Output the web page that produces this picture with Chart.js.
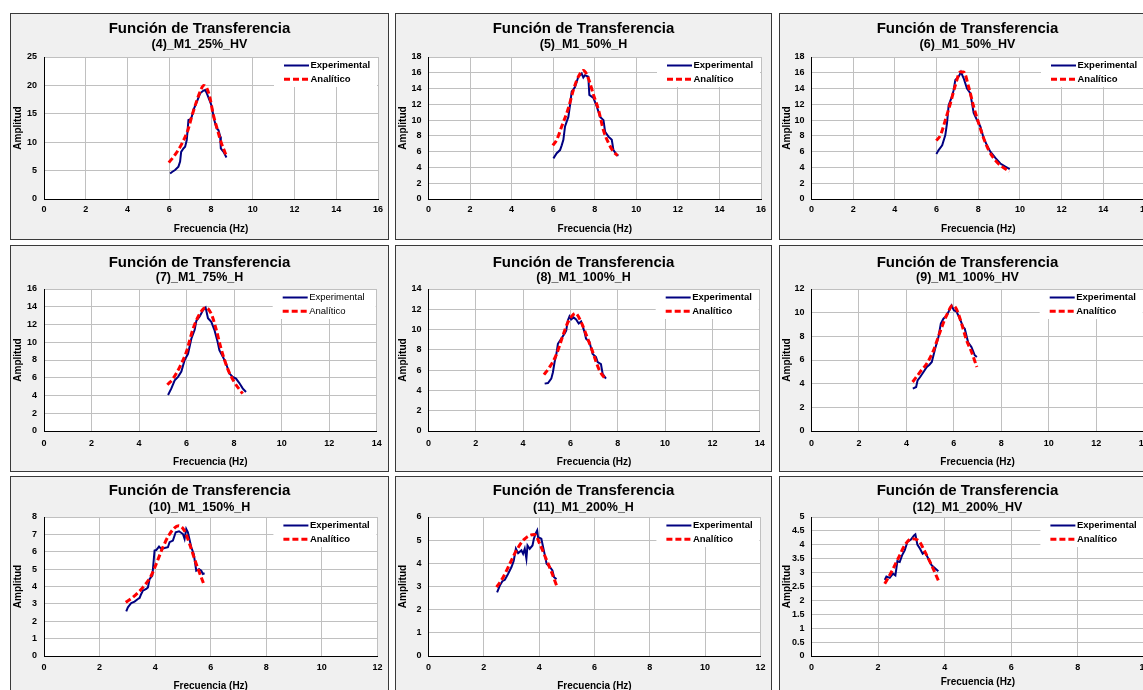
<!DOCTYPE html>
<html><head><meta charset="utf-8">
<script src="https://cdn.jsdelivr.net/npm/chart.js@4.4.0/dist/chart.umd.min.js"></script>
<style>
html,body{margin:0;padding:0;background:#fff;overflow:hidden;width:1143px;height:690px;position:relative;}
canvas{position:absolute;}
</style></head><body>
<script>
// ---------------- DATA ----------------
const mainTitle = 'Función de Transferencia';
const xAxisTitle = 'Frecuencia (Hz)';
const yAxisTitle = 'Amplitud';
const seriesNames = ['Experimental', 'Analítico'];
const panelNames = ['(4)_M1_25%_HV', '(5)_M1_50%_H', '(6)_M1_50%_HV',
                    '(7)_M1_75%_H', '(8)_M1_100%_H', '(9)_M1_100%_HV',
                    '(10)_M1_150%_H', '(11)_M1_200%_H', '(12)_M1_200%_HV'];
const xAxisMax = [16, 16, 16, 14, 14, 14, 12, 12, 10];
const xAxisStep = [2, 2, 2, 2, 2, 2, 2, 2, 2];
const yAxisMax = [25, 18, 18, 16, 14, 12, 8, 6, 5];
const yAxisStep = [5, 2, 2, 2, 2, 2, 1, 1, 0.5];

// (4)_M1_25%_HV
const p4ExpX = [6.04, 6.15, 6.28, 6.44, 6.52, 6.57, 6.68, 6.76, 6.84, 6.92, 7.0, 7.08, 7.16, 7.32, 7.48, 7.64, 7.72, 7.8, 7.96, 8.04, 8.12, 8.2, 8.28, 8.36, 8.44, 8.47, 8.6, 8.74];
const p4ExpY = [4.5, 4.8, 5.1, 5.7, 6.6, 8.3, 8.9, 9.2, 10.4, 13.9, 14.0, 14.5, 15.7, 17.1, 18.6, 19.1, 19.2, 18.6, 17.1, 16.3, 14.5, 13.3, 12.4, 12.1, 11.0, 8.9, 8.3, 7.3];
const p4AnaX = [5.98, 6.3, 6.6, 6.9, 7.1, 7.3, 7.5, 7.65, 7.8, 7.95, 8.1, 8.3, 8.5, 8.75];
const p4AnaY = [6.4, 7.9, 9.7, 12.2, 14.8, 17.1, 19.1, 20.0, 19.5, 17.8, 15.0, 12.3, 9.8, 7.5];

// (5)_M1_50%_H
const p5ExpX = [6.01, 6.17, 6.33, 6.41, 6.49, 6.57, 6.65, 6.73, 6.81, 6.89, 7.05, 7.21, 7.3, 7.37, 7.45, 7.53, 7.69, 7.74, 7.94, 8.1, 8.26, 8.42, 8.5, 8.66, 8.82, 8.9, 9.06, 9.14];
const p5ExpY = [5.15, 5.8, 6.2, 6.8, 7.5, 9.2, 9.8, 10.4, 11.9, 13.6, 14.2, 15.5, 15.7, 15.9, 15.4, 15.7, 15.5, 13.2, 12.8, 11.7, 10.4, 10.0, 8.5, 7.9, 7.5, 6.2, 5.6, 5.5];
const p5AnaX = [5.98, 6.17, 6.41, 6.73, 6.97, 7.21, 7.46, 7.69, 7.94, 8.18, 8.42, 8.66, 8.9, 9.1];
const p5AnaY = [6.8, 7.5, 9.2, 11.5, 13.8, 15.5, 16.3, 15.3, 13.2, 11.3, 8.7, 7.1, 6.0, 5.5];

// (6)_M1_50%_HV
const p6ExpX = [5.99, 6.1, 6.27, 6.42, 6.5, 6.58, 6.74, 6.82, 6.9, 7.06, 7.17, 7.3, 7.46, 7.62, 7.78, 7.94, 8.1, 8.26, 8.42, 8.58, 8.82, 9.06, 9.3, 9.51];
const p6ExpY = [5.7, 6.2, 6.8, 8.1, 9.6, 11.9, 13.0, 13.8, 15.1, 15.5, 16.1, 15.3, 14.0, 13.4, 10.9, 10.0, 9.2, 7.7, 6.8, 6.0, 5.2, 4.5, 4.1, 3.8];
const p6AnaX = [5.99, 6.19, 6.42, 6.66, 6.9, 7.14, 7.3, 7.54, 7.78, 8.02, 8.26, 8.5, 8.82, 9.14, 9.49];
const p6AnaY = [7.4, 8.1, 10.0, 12.1, 14.4, 16.1, 16.1, 14.2, 11.7, 9.6, 7.7, 6.2, 4.9, 4.1, 3.5];

// (7)_M1_75%_H
const p7ExpX = [5.22, 5.36, 5.5, 5.64, 5.78, 5.92, 6.06, 6.2, 6.34, 6.41, 6.55, 6.69, 6.8, 6.9, 7.04, 7.17, 7.31, 7.38, 7.52, 7.66, 7.8, 7.94, 8.08, 8.22, 8.36, 8.5];
const p7ExpY = [4.05, 4.8, 5.7, 6.1, 6.7, 8.0, 8.7, 10.4, 11.4, 12.4, 12.9, 13.6, 13.9, 12.7, 12.3, 11.4, 10.0, 9.1, 8.4, 7.6, 6.5, 6.1, 5.9, 5.4, 4.8, 4.4];
const p7AnaX = [5.19, 5.43, 5.71, 5.99, 6.27, 6.55, 6.8, 7.04, 7.24, 7.45, 7.73, 8.01, 8.36];
const p7AnaY = [5.2, 5.9, 7.2, 8.9, 11.5, 13.2, 13.9, 13.2, 11.5, 9.3, 7.0, 5.5, 4.2];

// (8)_M1_100%_H
const p8ExpX = [4.91, 5.05, 5.19, 5.26, 5.33, 5.4, 5.47, 5.61, 5.75, 5.82, 5.89, 5.96, 6.03, 6.13, 6.24, 6.35, 6.45, 6.59, 6.66, 6.8, 6.94, 7.08, 7.15, 7.29, 7.36, 7.5];
const p8ExpY = [4.67, 4.73, 5.16, 5.8, 6.8, 7.5, 8.6, 9.1, 9.6, 9.9, 10.9, 11.3, 11.0, 11.2, 11.0, 10.6, 10.8, 9.8, 9.1, 8.8, 7.6, 7.3, 6.8, 6.6, 5.65, 5.16];
const p8AnaX = [4.88, 5.12, 5.4, 5.68, 5.89, 6.05, 6.21, 6.45, 6.73, 6.94, 7.22, 7.5];
const p8AnaY = [5.55, 6.3, 7.5, 9.4, 10.7, 11.3, 11.6, 10.75, 9.1, 7.8, 6.0, 5.06];

// (9)_M1_100%_HV
const p9ExpX = [4.27, 4.41, 4.47, 4.58, 4.72, 4.86, 4.97, 5.07, 5.21, 5.35, 5.45, 5.56, 5.7, 5.84, 5.9, 6.0, 6.11, 6.25, 6.39, 6.46, 6.6, 6.74, 6.88, 6.97];
const p9ExpY = [3.58, 3.72, 4.28, 4.56, 4.99, 5.41, 5.6, 5.83, 6.96, 7.94, 9.07, 9.49, 9.77, 10.34, 10.6, 10.2, 10.1, 9.5, 8.8, 8.65, 7.5, 7.1, 6.4, 6.25];
const p9AnaX = [4.26, 4.58, 4.86, 5.14, 5.42, 5.7, 5.95, 6.11, 6.32, 6.53, 6.74, 6.97];
const p9AnaY = [4.14, 4.99, 5.7, 6.8, 8.4, 9.8, 10.6, 10.3, 9.1, 7.7, 6.7, 5.4];

// (10)_M1_150%_H
const p10ExpX = [2.96, 3.02, 3.14, 3.26, 3.38, 3.44, 3.5, 3.56, 3.68, 3.74, 3.8, 3.9, 3.98, 4.04, 4.14, 4.22, 4.34, 4.46, 4.52, 4.64, 4.74, 4.86, 5.0, 5.06, 5.12, 5.18, 5.3, 5.39, 5.48, 5.58, 5.66, 5.72, 5.78];
const p10ExpY = [2.57, 2.8, 3.05, 3.13, 3.28, 3.34, 3.57, 3.76, 3.86, 3.95, 4.43, 4.63, 6.07, 6.1, 6.3, 6.16, 6.22, 6.26, 6.55, 6.64, 7.12, 7.18, 7.02, 6.74, 7.31, 7.12, 6.26, 5.87, 4.91, 5.0, 4.91, 4.72, 4.76];
const p10AnaX = [2.94, 3.2, 3.56, 3.86, 4.04, 4.28, 4.52, 4.85, 5.06, 5.24, 5.48, 5.75];
const p10AnaY = [3.09, 3.38, 3.95, 4.63, 5.3, 6.26, 7.02, 7.5, 7.2, 6.45, 5.3, 4.15];

// (11)_M1_200%_H
const p11ExpX = [2.48, 2.58, 2.67, 2.76, 2.88, 3.0, 3.08, 3.16, 3.24, 3.36, 3.42, 3.48, 3.54, 3.58, 3.66, 3.76, 3.81, 3.88, 3.93, 3.96, 4.08, 4.17, 4.27, 4.39, 4.48, 4.54, 4.63];
const p11ExpY = [2.75, 3.04, 3.23, 3.29, 3.55, 3.84, 4.1, 4.63, 4.44, 4.56, 4.41, 4.63, 4.2, 4.77, 4.63, 4.77, 5.06, 5.3, 5.42, 5.13, 5.06, 4.56, 3.98, 3.84, 3.69, 3.4, 3.32];
const p11AnaX = [2.46, 2.7, 2.94, 3.18, 3.42, 3.66, 3.84, 4.02, 4.2, 4.45, 4.63];
const p11AnaY = [2.97, 3.4, 3.98, 4.56, 4.99, 5.21, 5.25, 4.85, 4.34, 3.62, 3.04];

// (12)_M1_200%_HV
const p12ExpX = [2.2, 2.25, 2.35, 2.45, 2.52, 2.58, 2.65, 2.72, 2.8, 2.88, 2.98, 3.08, 3.12, 3.18, 3.26, 3.34, 3.41, 3.51, 3.61, 3.71, 3.81];
const p12ExpY = [2.74, 2.86, 2.81, 2.96, 2.9, 3.41, 3.38, 3.62, 3.8, 4.1, 4.18, 4.34, 4.38, 4.01, 3.86, 3.68, 3.74, 3.5, 3.26, 3.16, 3.05];
const p12AnaX = [2.2, 2.4, 2.6, 2.8, 3.0, 3.21, 3.41, 3.61, 3.81];
const p12AnaY = [2.6, 3.02, 3.5, 3.98, 4.22, 4.16, 3.74, 3.26, 2.72];

const expXs = [p4ExpX, p5ExpX, p6ExpX, p7ExpX, p8ExpX, p9ExpX, p10ExpX, p11ExpX, p12ExpX];
const expYs = [p4ExpY, p5ExpY, p6ExpY, p7ExpY, p8ExpY, p9ExpY, p10ExpY, p11ExpY, p12ExpY];
const anaXs = [p4AnaX, p5AnaX, p6AnaX, p7AnaX, p8AnaX, p9AnaX, p10AnaX, p11AnaX, p12AnaX];
const anaYs = [p4AnaY, p5AnaY, p6AnaY, p7AnaY, p8AnaY, p9AnaY, p10AnaY, p11AnaY, p12AnaY];

// ---------------- LAYOUT / STYLE ----------------
const FAMILY = "'Liberation Sans', Arial, Helvetica, sans-serif";
Chart.defaults.font.family = FAMILY;
Chart.defaults.color = '#000';

const cols = [
  {left: 10, width: 379, plotLeft: 34, plotRight: 368},
  {left: 395, width: 377, plotLeft: 33.5, plotRight: 366},
  {left: 779, width: 377, plotLeft: 32.5, plotRight: 366}
];
const rows = [
  {top: 13, height: 227, titleBase: 21.3, subBase: 36, plotTop: 44, plotBottom: 186, xTickC: 197, xTitleC: 216.5},
  {top: 245, height: 227, titleBase: 22.7, subBase: 37, plotTop: 44, plotBottom: 186, xTickC: 198.7, xTitleC: 217.3},
  {top: 476, height: 227, titleBase: 20.3, subBase: 36.3, plotTop: 41, plotBottom: 180, xTickC: 192, xTitleC: 210}
];
const legendNormalWeight = [false, false, false, true, false, false, false, false, false];

const TITLE_SIZE = 15, SUB_SIZE = 12.5, TICK_SIZE = 9, AXT_SIZE = 10, LEG_SIZE = 9.5;
const MID = 0.3465;

const decoPlugin = {
  id: 'panelDeco',
  beforeDraw(chart) {
    const {ctx, chartArea: a, width, height} = chart;
    ctx.save();
    ctx.fillStyle = '#f0f0f0';
    ctx.fillRect(0, 0, width, height);
    ctx.fillStyle = '#ffffff';
    ctx.fillRect(a.left, a.top, a.right - a.left, a.bottom - a.top);
    ctx.restore();
  },
  afterDatasetsDraw(chart, args, opts) {
    const {ctx, chartArea: a} = chart;
    ctx.save();
    ctx.fillStyle = '#ffffff';
    ctx.fillRect(a.right - 104, a.top + 1, 103, 29);
    chart.data.datasets.forEach((ds, i) => {
      const y = a.top + (i === 0 ? 8.5 : 22.3);
      ctx.beginPath();
      ctx.strokeStyle = ds.borderColor;
      ctx.lineWidth = ds.borderWidth;
      ctx.setLineDash(ds.borderDash || []);
      ctx.moveTo(a.right - 94, y);
      ctx.lineTo(a.right - 69, y);
      ctx.stroke();
      ctx.setLineDash([]);
      ctx.fillStyle = '#000';
      ctx.font = (opts.normal ? '' : 'bold ') + LEG_SIZE + 'px ' + FAMILY;
      ctx.textBaseline = 'middle';
      ctx.textAlign = 'left';
      ctx.fillText(ds.label, a.right - 67.5, y);
    });
    ctx.restore();
  },
  afterDraw(chart) {
    const {ctx, width, height} = chart;
    ctx.save();
    ctx.strokeStyle = '#3a3a3a';
    ctx.lineWidth = 1;
    ctx.strokeRect(0.5, 0.5, width - 1, height - 1);
    ctx.restore();
  }
};

function pts(xs, ys) { return xs.map((x, i) => ({x: x, y: ys[i]})); }

for (let i = 0; i < 9; i++) {
  const c = cols[i % 3], r = rows[Math.floor(i / 3)];
  const W = c.width, H = r.height;
  const padL = W - c.plotRight, padR = W - c.plotRight;
  const tp = r.titleBase - MID * TITLE_SIZE - TITLE_SIZE / 2;
  const titleEnd = tp + TITLE_SIZE;
  const subMid = r.subBase - MID * SUB_SIZE;
  const sp = subMid - titleEnd - SUB_SIZE / 2;
  const spb = r.plotTop - (subMid + SUB_SIZE / 2);
  const xTickPad = r.xTickC - r.plotBottom - TICK_SIZE * 1.2 / 2;
  let xTitleC = r.xTitleC;
  if (i === 8) xTitleC = 206.3;
  const xTitlePad = H - xTitleC - AXT_SIZE * 1.2 / 2;
  const yTitleOff = 8.5 - padL - AXT_SIZE * 1.2 / 2;

  const cv = document.createElement('canvas');
  cv.width = W; cv.height = H;
  cv.style.left = c.left + 'px'; cv.style.top = r.top + 'px';
  cv.style.width = W + 'px'; cv.style.height = H + 'px';
  document.body.appendChild(cv);

  new Chart(cv, {
    type: 'scatter',
    data: {
      datasets: [
        {label: seriesNames[0], data: pts(expXs[i], expYs[i]), showLine: true, borderColor: '#000080',
         backgroundColor: '#000080', borderWidth: 2, pointRadius: 0, tension: 0, order: 1},
        {label: seriesNames[1], data: pts(anaXs[i], anaYs[i]), showLine: true, borderColor: '#ff0000',
         backgroundColor: '#ff0000', borderWidth: 3, borderDash: [6, 3], pointRadius: 0,
         cubicInterpolationMode: 'monotone', order: 0}
      ]
    },
    options: {
      responsive: false, animation: false, devicePixelRatio: 1,
      layout: {padding: {left: padL, right: padR, top: 0, bottom: 0}},
      plugins: {
        legend: {display: false},
        tooltip: {enabled: false},
        title: {display: true, text: mainTitle, color: '#000',
                font: {size: TITLE_SIZE, weight: 'bold', lineHeight: 1}, padding: {top: tp, bottom: 0}},
        subtitle: {display: true, text: panelNames[i], color: '#000',
                   font: {size: SUB_SIZE, weight: 'bold', lineHeight: 1}, padding: {top: sp, bottom: spb}},
        panelDeco: {normal: legendNormalWeight[i]}
      },
      scales: {
        x: {type: 'linear', min: 0, max: xAxisMax[i],
            ticks: {stepSize: xAxisStep[i], padding: xTickPad, color: '#000', font: {size: TICK_SIZE, weight: 'bold'}},
            grid: {color: '#c0c0c0', lineWidth: 1, drawTicks: false},
            border: {display: true, color: '#000', width: 1},
            title: {display: true, text: xAxisTitle, color: '#000', font: {size: AXT_SIZE, weight: 'bold'},
                    padding: {top: 0, bottom: xTitlePad}},
            afterFit: (s) => { s.height = H - r.plotBottom; }},
        y: {type: 'linear', min: 0, max: yAxisMax[i],
            ticks: {stepSize: yAxisStep[i], padding: 7, color: '#000', font: {size: TICK_SIZE, weight: 'bold'},
                    callback: (v) => String(Math.round(v * 100) / 100)},
            grid: {color: '#c0c0c0', lineWidth: 1, drawTicks: false},
            border: {display: true, color: '#000', width: 1},
            title: {display: true, text: yAxisTitle, color: '#000', font: {size: AXT_SIZE, weight: 'bold'},
                    padding: {top: yTitleOff, bottom: 0}},
            afterFit: (s) => { s.width = c.plotLeft - padL; }}
      }
    },
    plugins: [decoPlugin]
  });
}
</script>
</body></html>
